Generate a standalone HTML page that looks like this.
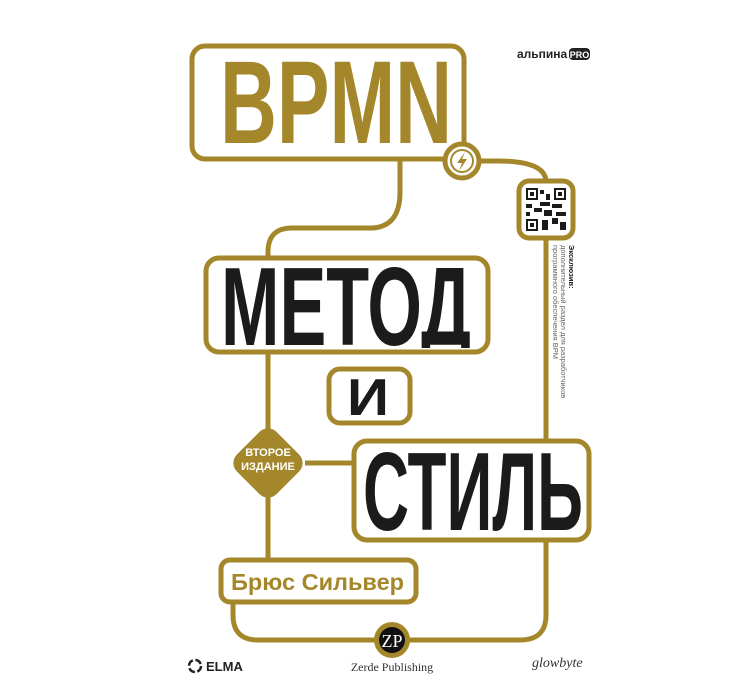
<!DOCTYPE html>
<html><head><meta charset="utf-8"><style>
html,body{margin:0;padding:0;background:#fff;}
svg{display:block;}
.c{font-family:"Liberation Sans Narrow","Liberation Sans",sans-serif;font-weight:bold;}
</style></head><body>
<svg width="730" height="695" viewBox="0 0 730 695" xmlns="http://www.w3.org/2000/svg">
<defs>
  <clipPath id="cm"><rect x="206" y="258" width="282" height="90"/></clipPath>
  <clipPath id="cs"><rect x="354" y="441" width="235" height="95"/></clipPath>
</defs>
<g fill="none" stroke="#a5872b" stroke-width="5">
  <path d="M400 160 V192 Q400 228 370 228 H292 Q268 228 268 252 V258"/>
  <path d="M268 352 V560"/>
  <path d="M305 463 H355"/>
  <path d="M480 161 H498 Q546 161 546 182"/>
  <path d="M546 238 V615 Q546 640 520 640 H258 Q233 640 233 615 V602"/>
  <rect x="192" y="46" width="272" height="113" rx="13" fill="#fff"/>
  <rect x="206" y="258" width="282" height="94" rx="13" fill="#fff"/>
  <rect x="329" y="369" width="81" height="54" rx="11" fill="#fff"/>
  <rect x="354" y="441" width="235" height="99" rx="13" fill="#fff"/>
  <rect x="221" y="560" width="195" height="42" rx="9" fill="#fff"/>
  <rect x="519" y="181" width="54" height="57" rx="10" fill="#fff"/>
  <circle cx="462" cy="161" r="17" fill="#fff"/>
</g>
<circle cx="462" cy="161" r="11" fill="none" stroke="#a5872b" stroke-width="2"/>
<path d="M465 152 L457 163 H462 L459 171 L467 159 H462 Z" fill="#a5872b"/>
<rect x="240" y="435" width="56" height="56" rx="12" fill="#a5872b" transform="rotate(45 268 463)"/>
<text x="268" y="456" font-family="Liberation Sans,sans-serif" font-weight="bold" font-size="11" fill="#fff" text-anchor="middle">ВТОРОЕ</text>
<text x="268" y="470" font-family="Liberation Sans,sans-serif" font-weight="bold" font-size="11" fill="#fff" text-anchor="middle">ИЗДАНИЕ</text>
<text class="c" x="220" y="143" font-size="118" fill="#a5872b" textLength="232" lengthAdjust="spacingAndGlyphs">BPMN</text>
<g clip-path="url(#cm)">
<text class="c" x="221" y="345" font-size="111" fill="#1b1b1b" textLength="250" lengthAdjust="spacingAndGlyphs">МЕТОД</text>
</g>
<text class="c" x="347" y="415" font-size="52" fill="#1b1b1b" textLength="42" lengthAdjust="spacingAndGlyphs">И</text>
<g clip-path="url(#cs)">
<text class="c" x="363" y="530" font-size="111" fill="#1b1b1b" textLength="220" lengthAdjust="spacingAndGlyphs">СТИЛЬ</text>
</g>
<text x="231" y="590" font-family="Liberation Sans,sans-serif" font-weight="bold" font-size="23" fill="#a5872b" textLength="173" lengthAdjust="spacingAndGlyphs">Брюс Сильвер</text>
<g fill="#1b1b1b">
  <rect x="526" y="188" width="12" height="12"/><rect x="554" y="188" width="12" height="12"/><rect x="526" y="219" width="12" height="12"/>
  <rect x="540" y="190" width="4" height="4"/><rect x="546" y="194" width="4" height="6"/><rect x="540" y="202" width="10" height="4"/>
  <rect x="526" y="204" width="6" height="4"/><rect x="534" y="208" width="8" height="4"/><rect x="552" y="204" width="10" height="4"/>
  <rect x="544" y="210" width="8" height="6"/><rect x="556" y="212" width="10" height="4"/><rect x="542" y="220" width="6" height="10"/>
  <rect x="552" y="218" width="6" height="6"/><rect x="560" y="222" width="6" height="8"/><rect x="526" y="212" width="4" height="4"/>
</g>
<g fill="#fff"><rect x="528" y="190" width="8" height="8"/><rect x="556" y="190" width="8" height="8"/><rect x="528" y="221" width="8" height="8"/></g>
<g fill="#1b1b1b"><rect x="530" y="192" width="4" height="4"/><rect x="558" y="192" width="4" height="4"/><rect x="530" y="223" width="4" height="4"/></g>
<g transform="translate(569 245) rotate(90)" font-family="Liberation Sans,sans-serif" font-size="7.5" fill="#666">
  <text x="0" y="0" font-weight="bold" fill="#222">Эксклюзив:</text>
  <text x="0" y="8">дополнительный раздел для разработчиков</text>
  <text x="0" y="16">программного обеспечения BPM</text>
</g>
<text x="517" y="58" font-family="Liberation Sans,sans-serif" font-weight="bold" font-size="12" fill="#222">альпина</text>
<rect x="569" y="48" width="21" height="12" rx="4" fill="#222"/>
<text x="579.5" y="58" font-family="Liberation Sans,sans-serif" font-weight="bold" font-size="9" fill="#fff" text-anchor="middle">PRO</text>
<circle cx="392" cy="640" r="18" fill="#a5872b"/>
<circle cx="392" cy="640" r="13" fill="#111"/>
<text x="392" y="647" font-family="Liberation Serif,serif" font-size="18" fill="#fff" text-anchor="middle">ZP</text>
<text x="392" y="671" font-family="Liberation Serif,serif" font-size="12" fill="#333" text-anchor="middle">Zerde Publishing</text>
<circle cx="195" cy="666" r="6" fill="none" stroke="#222" stroke-width="2.5" stroke-dasharray="7 2.5"/>
<text x="206" y="671" font-family="Liberation Sans,sans-serif" font-weight="bold" font-size="13" fill="#222">ELMA</text>
<text x="532" y="667" font-family="Liberation Serif,serif" font-style="italic" font-size="14" fill="#333">glowbyte</text>
</svg>
</body></html>
